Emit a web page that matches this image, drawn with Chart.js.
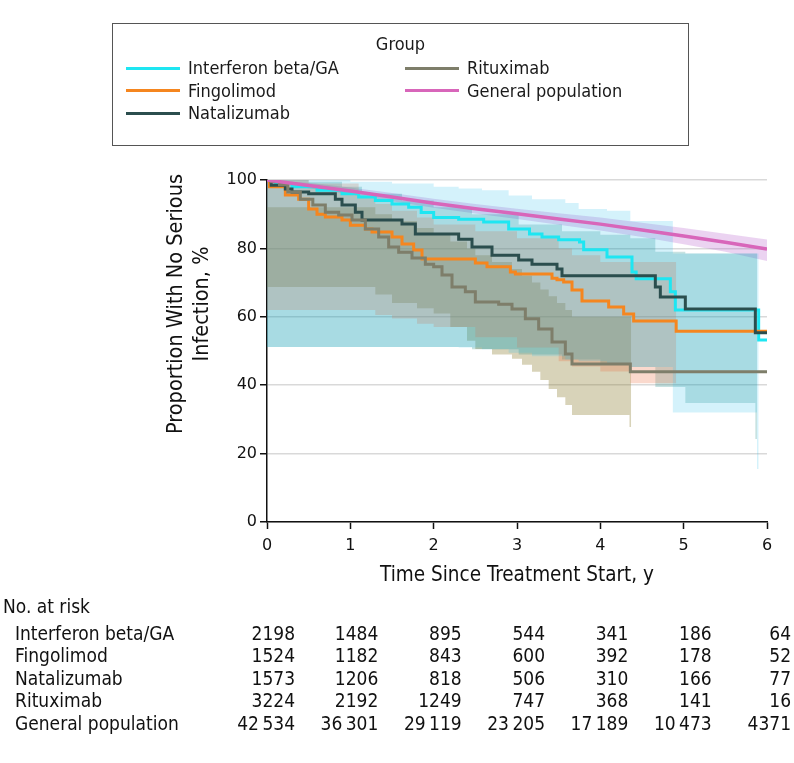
<!DOCTYPE html>
<html>
<head>
<meta charset="utf-8">
<title>Proportion with no serious infection by treatment group</title>
<script src="https://cdn.jsdelivr.net/npm/chart.js"></script>
<style>
  body { margin: 0; background: #fff; }
  #wrap { position: relative; width: 794px; height: 763px; }
  #chart { position: absolute; left: 0; top: 0; }
  #legend { position: absolute; left: 112px; top: 23px; width: 577px; height: 123px; box-sizing: border-box;
            border: 1px solid #555; font-family: 'DejaVu Sans Condensed', sans-serif; font-size: 18px; color: #1a1a1a; }
  #legend .ttl { position: absolute; left: 0; width: 100%; top: 9px; text-align: center; }
  #legend .item { position: absolute; white-space: nowrap; line-height: 22px; }
  #legend .item span { display: inline-block; width: 54px; height: 3px; vertical-align: middle; margin-right: 8px; position: relative; top: -1px; }
</style>
</head>
<body>
<div id="wrap">
  <canvas id="chart" width="794" height="763"></canvas>
  <div id="legend"><div class="ttl">Group</div></div>
</div>
<script>
// x = years since treatment start, y = % with no serious infection
const groups = ['Interferon beta/GA', 'Fingolimod', 'Natalizumab', 'Rituximab', 'General population'];
const lineColors = ['#1ee6f2', '#f5861f', '#2b4e4e', '#7e7e6a', '#d866ba'];
const bandColors = ['rgba(40,190,235,0.2)', 'rgba(235,110,60,0.26)', 'rgba(0,125,120,0.22)',
                    'rgba(140,125,50,0.34)', 'rgba(190,110,210,0.3)'];

// Kaplan-Meier curves
const ifnT = [0, 0.1, 0.3, 0.6, 0.9, 1.1, 1.3, 1.5, 1.7, 1.85, 2.0, 2.3, 2.6, 2.9, 3.15, 3.3, 3.5, 3.75, 3.8, 4.08, 4.38, 4.43, 4.84, 4.9, 5.9, 6.0];
const ifnS = [100, 99, 98, 97, 96, 95, 94, 93, 92, 90.5, 89, 88.5, 87.7, 85.7, 84.2, 83.3, 82.5, 81.9, 79.6, 77.5, 73.1, 71.1, 67.3, 62, 53.2, 53.2];

const fingT = [0, 0.03, 0.22, 0.38, 0.5, 0.6, 0.7, 0.9, 1.0, 1.18, 1.26, 1.5, 1.62, 1.76, 1.86, 2.5, 2.64, 2.92, 2.98, 3.42, 3.48, 3.56, 3.66, 3.78, 4.1, 4.28, 4.4, 4.91, 6.0];
const fingS = [100, 98, 95.6, 94.4, 91.5, 90, 89.2, 88.3, 86.8, 85.7, 84.8, 83.3, 81.3, 79.5, 76.9, 75.7, 74.6, 73.1, 72.5, 71.3, 70.8, 70.2, 67.8, 64.6, 62.9, 60.8, 58.8, 55.8, 55.8];

const natT = [0, 0.05, 0.22, 0.3, 0.5, 0.82, 0.9, 1.06, 1.14, 1.62, 1.78, 2.3, 2.46, 2.7, 3.02, 3.18, 3.48, 3.54, 4.66, 4.72, 5.02, 5.86, 6.0];
const natS = [100, 98.5, 97.4, 96.5, 96, 94.4, 92.7, 90.6, 88.3, 87.1, 84.2, 82.7, 80.4, 78, 76.6, 75.4, 74, 72, 68.7, 65.8, 62.3, 55.3, 55.3];

const ritT = [0, 0.05, 0.15, 0.25, 0.4, 0.55, 0.7, 0.86, 1.02, 1.18, 1.34, 1.46, 1.58, 1.74, 1.9, 2.0, 2.1, 2.22, 2.38, 2.5, 2.78, 2.94, 3.1, 3.26, 3.42, 3.58, 3.66, 4.36, 6.0];
const ritS = [100, 99.5, 98.6, 96.5, 94.4, 92.7, 90.6, 89.8, 88.3, 85.7, 83.3, 80.4, 78.9, 77.2, 75.4, 74.6, 72.2, 68.7, 67.3, 64.3, 63.7, 62.3, 59.4, 56.4, 52.6, 49.1, 46.2, 43.9, 43.9];

const genT = [0, 0.5, 1, 1.5, 2, 2.5, 3, 3.5, 4, 4.5, 5, 5.5, 6];
const genS = [100, 98.4, 96.8, 95.0, 93.2, 91.6, 90.1, 88.6, 87.1, 85.4, 83.6, 81.8, 79.8];

// confidence bands
const ifnCiT = [0, 1.0, 1.5, 2.0, 2.3, 2.58, 2.9, 3.18, 3.58, 3.74, 4.08, 4.36, 4.87, 5.88, 5.9];
const ifnHi  = [100, 99.5, 99, 98, 97.5, 97, 95.5, 94.4, 93.3, 91.5, 91, 88, 78.5, 78.5, 78.5];
const ifnLo  = [51.2, 51.2, 51.2, 51.2, 51, 50.5, 49.5, 48.5, 47.5, 47, 46, 45.3, 32, 15.5, 15.5];

const fingCiT = [0, 0.5, 1.1, 1.3, 1.5, 1.8, 2.0, 2.5, 3.0, 3.5, 3.66, 4.0, 4.36, 4.7, 4.91];
const fingHi  = [100, 99, 95, 93, 91, 89, 87, 85, 83, 80, 78, 76, 76, 76, 76];
const fingLo  = [62, 62, 62, 60.5, 59.5, 58, 57, 54, 51, 47, 45.5, 44, 40.6, 40.6, 40.6];

const natCiT = [0, 0.5, 0.9, 1.14, 1.62, 2.0, 2.46, 3.02, 3.54, 4.0, 4.36, 4.66, 5.02, 5.86, 5.88];
const natHi  = [100, 99.5, 98, 96, 94, 92, 90, 87, 85, 84, 83, 79, 78.5, 78.5, 78.5];
const natLo  = [51.2, 51.2, 51.2, 51.2, 51.2, 51.2, 50.5, 49, 47.5, 46.5, 45.3, 39.5, 34.8, 24.3, 24.3];

const ritCiT = [0, 1.05, 1.3, 1.5, 1.8, 2.0, 2.2, 2.4, 2.5, 2.7, 2.94, 3.06, 3.18, 3.28, 3.38, 3.48, 3.58, 3.66, 4.35, 4.37];
const ritHi  = [92, 92, 90, 88, 86, 84, 82, 80, 78, 76, 74, 72, 70, 68, 66, 64, 62, 60, 60, 60];
const ritLo  = [68.7, 68.7, 66.5, 64, 62.5, 61, 57, 53, 50.6, 49, 47.7, 46, 43.9, 41.5, 38.9, 36.5, 34.2, 31.3, 27.8, 27.8];

const genHi = [100, 99.2, 97.8, 96.2, 94.5, 93, 91.6, 90.3, 89, 87.5, 86, 84.3, 82.6];
const genLo = [99.5, 97.6, 95.8, 93.8, 91.9, 90.2, 88.6, 86.9, 85.2, 83.3, 81.2, 79, 76.3];

// number at risk table
const riskTimes = [0, 1, 2, 3, 4, 5, 6];
const riskIfn  = [2198, 1484, 895, 544, 341, 186, 64];
const riskFing = [1524, 1182, 843, 600, 392, 178, 52];
const riskNat  = [1573, 1206, 818, 506, 310, 166, 77];
const riskRit  = [3224, 2192, 1249, 747, 368, 141, 16];
const riskGen  = [42534, 36301, 29119, 23205, 17189, 10473, 4371];
const riskRows = [riskIfn, riskFing, riskNat, riskRit, riskGen];

const curves = [[ifnT, ifnS], [fingT, fingS], [natT, natS], [ritT, ritS], [genT, genS]];
const bands = [[ifnCiT, ifnLo, ifnHi], [fingCiT, fingLo, fingHi], [natCiT, natLo, natHi],
               [ritCiT, ritLo, ritHi], [genT, genLo, genHi]];

const pts = (ts, vs) => ts.map((t, i) => ({ x: t, y: vs[i] }));
const condensed = "'DejaVu Sans Condensed', 'DejaVu Sans', sans-serif";

// each value holds until the next time point (KM step)
const datasets = [];
bands.forEach((b, i) => {
  const stepped = i === 4 ? false : 'before';
  datasets.push({ data: pts(b[0], b[2]), fill: '+1', backgroundColor: bandColors[i], borderWidth: 0,
                  pointRadius: 0, stepped: stepped, order: 20 });
  datasets.push({ data: pts(b[0], b[1]), fill: false, borderWidth: 0, pointRadius: 0, stepped: stepped, order: 20 });
});
curves.forEach((c, i) => {
  datasets.push({ label: groups[i], data: pts(c[0], c[1]), borderColor: lineColors[i], borderWidth: i === 4 ? 3.5 : 3,
                  pointRadius: 0, fill: false, stepped: i === 4 ? false : 'before', order: 5 - i });
});

// HTML legend, two columns
const legend = document.getElementById('legend');
groups.forEach((g, i) => {
  const d = document.createElement('div');
  d.className = 'item';
  d.style.left = (i < 3 ? 13 : 292) + 'px';
  d.style.top = (33 + (i % 3) * 22.5) + 'px';
  d.innerHTML = '<span style="background:' + lineColors[i] + '"></span>' + g;
  legend.appendChild(d);
});

const fmt = n => n >= 10000 ? String(n).replace(/(\d)(\d{3})$/, '$1\u2009$2') : String(n);

const extras = {
  id: 'extras',
  afterDraw(chart) {
    const ctx = chart.ctx, xs = chart.scales.x, area = chart.chartArea;
    ctx.save();
    ctx.fillStyle = '#111';
    ctx.textBaseline = 'middle';
    // y axis title
    ctx.font = '21.5px ' + condensed;
    ctx.textAlign = 'center';
    ctx.translate(area.left - 91, area.top + 124);
    ctx.rotate(-Math.PI / 2);
    ctx.fillText('Proportion With No Serious', 0, 0);
    ctx.fillText('Infection, %', 0, 26);
    ctx.restore();

    ctx.save();
    ctx.fillStyle = '#111';
    ctx.textBaseline = 'middle';
    ctx.font = '19px ' + condensed;
    const top = area.bottom + 86;
    ctx.textAlign = 'left';
    ctx.fillText('No. at risk', 3, top);
    riskRows.forEach((row, r) => {
      const y = top + 27 + r * 22.5;
      ctx.textAlign = 'left';
      ctx.fillText(groups[r], 15, y);
      ctx.textAlign = 'right';
      row.forEach((n, k) => {
        const x = Math.min(xs.getPixelForValue(riskTimes[k]) + 28, 791);
        ctx.fillText(fmt(n), x, y);
      });
    });
    ctx.restore();
  }
};

new Chart(document.getElementById('chart'), {
  type: 'line',
  data: { datasets: datasets },
  plugins: [extras],
  options: {
    responsive: false,
    animation: false,
    events: [],
    layout: { padding: { left: 0, right: 27, top: 180, bottom: 171 } },
    plugins: {
      legend: { display: false },
      tooltip: { enabled: false },
      filler: { drawTime: 'beforeDatasetsDraw' }
    },
    scales: {
      x: {
        type: 'linear', min: 0, max: 6,
        afterFit: s => { s.height = 70; },
        border: { color: '#111', width: 1.5 },
        grid: { drawOnChartArea: false, tickColor: '#111', tickLength: 7, tickWidth: 1.5 },
        ticks: { stepSize: 1, color: '#111', padding: 7, font: { family: "'DejaVu Sans', sans-serif", size: 16 } },
        title: { display: true, text: 'Time Since Treatment Start, y', color: '#111', padding: { top: 0, bottom: 4 },
                 font: { family: condensed, size: 20.5 } }
      },
      y: {
        min: 0, max: 100,
        afterFit: s => { s.width = 267; },
        border: { color: '#111', width: 1.5 },
        grid: { color: '#d9d9d9', lineWidth: 1.5, tickColor: '#111', tickLength: 7, tickWidth: 1.5 },
        ticks: { stepSize: 20, color: '#111', padding: 3, font: { family: "'DejaVu Sans', sans-serif", size: 16 } }
      }
    }
  }
});
</script>
</body>
</html>
